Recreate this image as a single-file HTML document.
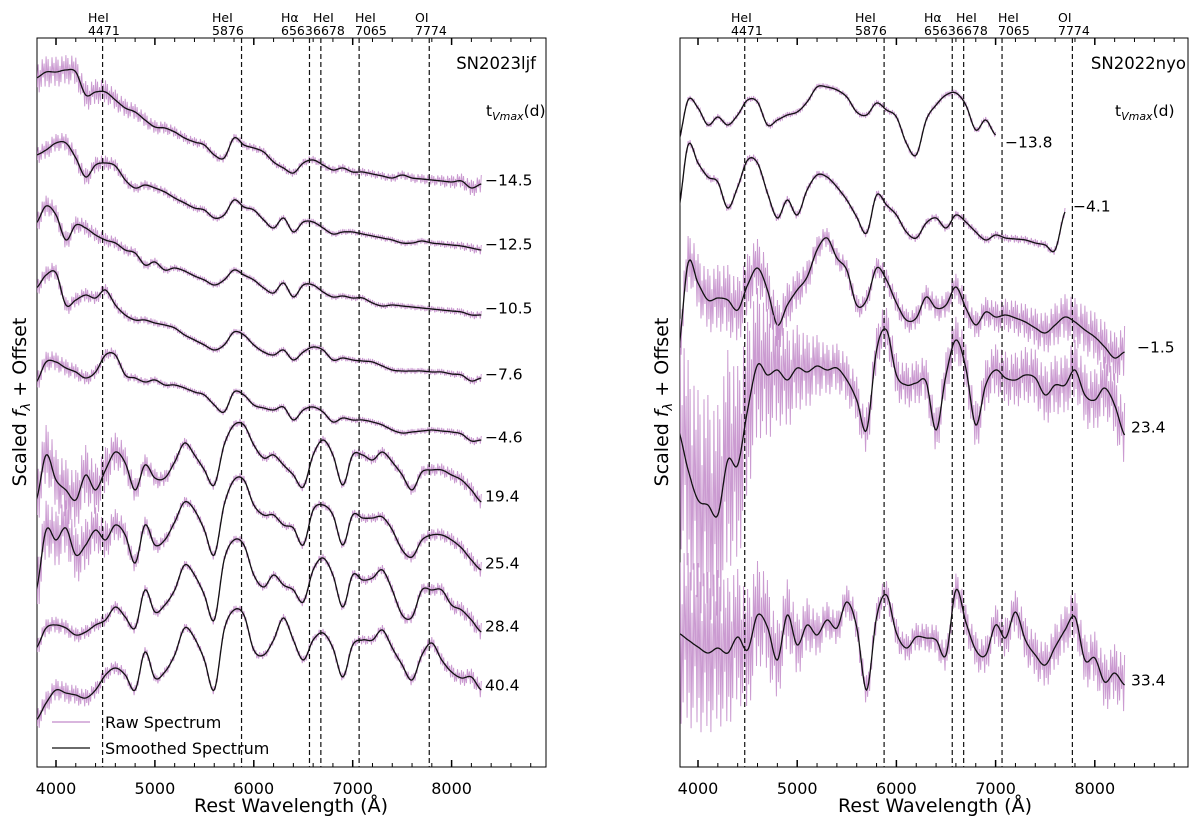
<!DOCTYPE html>
<html><head><meta charset="utf-8">
<style>
html,body{margin:0;padding:0;background:#fff;}
svg{display:block;font-family:"DejaVu Sans","Liberation Sans",sans-serif;}
</style></head>
<body>
<svg id="chart" width="1200" height="831" viewBox="0 0 1200 831" xmlns="http://www.w3.org/2000/svg">
<defs>
<clipPath id="clipL"><rect x="37" y="38" width="509" height="729"/></clipPath>
<clipPath id="clipR"><rect x="680" y="38" width="508" height="729"/></clipPath>
</defs>
<g id="panelL"></g>
<g id="panelR"></g>
</svg>
<script>
// ---------- DATA ----------
const lineWaves = [4471, 5876, 6563, 6678, 7065, 7774];
const lineNames = ["HeI", "HeI", "Hα", "HeI", "HeI", "OI"];
const xTicks = [4000, 5000, 6000, 7000, 8000];
const noiseGrid = [3800, 4300, 4800, 5300, 5800, 6300, 6800, 7300, 7800, 8300];

const leftPhases = ["−14.5", "−12.5", "−10.5", "−7.6", "−4.6", "19.4", "25.4", "28.4", "40.4"];
const leftStarts = [3800, 3800, 3800, 3800, 3800, 3800, 3800, 3800, 3800];
const L1 = [922,928,928,930,928,905,908,908,900,892,888,880,873,872,868,862,858,855,845,842,862,855,852,848,838,832,827,837,840,835,830,832,828,828,826,824,822,825,822,821,820,819,818,819,812,816];
const L2 = [845,850,857,857,842,823,835,837,834,820,812,815,812,808,802,797,792,790,782,785,800,793,790,780,772,782,768,778,778,772,766,768,768,766,764,762,760,757,757,759,757,756,755,754,752,750];
const L3 = [777,794,785,760,775,772,765,760,757,750,747,735,738,730,732,729,724,720,715,720,730,725,720,712,707,717,703,715,715,708,703,704,702,702,697,694,695,694,693,692,691,690,689,688,685,685];
const L4 = [712,725,727,695,700,705,702,710,695,685,680,680,677,675,672,665,660,655,650,655,668,665,655,648,645,650,640,648,653,650,640,642,640,639,638,634,630,629,629,629,628,628,626,625,619,622];
const L5 = [618,638,638,632,628,622,628,645,645,625,622,618,620,615,615,612,608,605,595,588,608,605,595,592,590,593,580,590,593,588,578,582,580,580,578,575,570,567,568,569,570,569,568,566,559,560];
const L6 = [500,545,520,510,500,525,510,530,548,537,510,535,522,522,538,557,545,530,515,555,575,575,555,542,545,535,525,513,545,560,545,515,545,545,540,548,538,525,510,528,530,530,525,520,510,498];
const L7 = [410,470,460,472,445,455,470,460,475,465,437,475,455,460,478,498,490,470,445,495,520,520,495,485,485,475,472,455,490,495,485,455,485,482,482,483,470,450,443,460,465,465,460,452,440,430];
const L8 = [352,372,375,372,365,368,375,380,393,383,372,410,388,395,410,435,425,405,380,440,460,455,425,413,425,415,410,398,430,442,425,393,425,420,422,430,410,385,383,410,410,410,395,390,380,368];
const L9 = [280,297,310,307,305,302,310,325,332,325,310,348,322,328,345,372,362,340,310,370,390,385,350,345,360,382,360,340,360,367,352,323,355,360,360,370,352,335,320,345,357,340,328,322,323,310];
const leftNoise = [
 [16,14,8,5,4,4,4,4,5,9],[9,9,5,4,3,3,3,3,3,5],[11,8,5,3,3,3,3,3,3,4],
 [9,7,4,3,3,3,3,3,3,4],[11,7,4,3,3,3,3,3,3,4],[30,30,12,5,4,4,4,5,6,8],
 [30,26,9,5,4,4,4,5,6,8],[9,7,5,4,4,4,4,5,6,9],[12,9,5,4,4,4,4,5,6,9]];

const rightPhases = ["−13.8", "−4.1", "−1.5", "23.4", "33.4"];
const rightStarts = [3800, 3800, 3800, 3800, 3800];
const R1 = [857,900,892,875,883,875,885,900,898,875,880,885,888,898,913,913,910,903,888,885,897,890,883,857,845,880,895,905,907,895,870,880,865];
const R2 = [788,855,837,823,818,792,813,840,837,807,782,800,785,810,825,823,813,800,783,767,805,795,785,768,762,777,782,772,785,778,768,760,765,762,761,760,757,755,750,788];
const R3 = [647,737,717,700,702,700,690,715,732,710,675,695,710,723,750,762,742,730,695,700,732,720,697,680,682,703,692,695,713,692,675,688,683,685,682,678,672,667,675,683,678,670,663,653,642,648];
const R4 = [570,530,500,495,485,540,535,590,635,625,630,620,632,628,634,630,632,620,600,570,650,670,625,615,617,618,570,625,660,632,575,615,630,622,620,625,622,605,615,615,630,605,600,612,595,565];
const R5 = [367,360,353,347,352,347,363,350,385,373,340,385,355,375,365,380,372,398,373,310,383,405,367,352,363,362,360,345,410,378,350,345,375,362,388,360,345,335,353,370,383,340,342,318,327,315];
const rightNoise = [
 [3,3,3,3,3,3,3,3,3,3],[4,4,4,4,4,4,4,4,4,4],[25,35,25,10,10,12,14,18,24,26],
 [110,110,55,25,22,22,24,28,30,32],[90,75,40,18,14,14,18,22,24,30]];

const leftSeries = [L1,L2,L3,L4,L5,L6,L7,L8,L9];
const rightSeries = [R1,R2,R3,R4,R5];

// ---------- SCALES ----------
const STEP = 100;
const yMin = 233, yMax = 962, plotTop = 38, plotBot = 767;
function yS(v){ return plotBot - (v - yMin) * (plotBot - plotTop) / (yMax - yMin); }
function xL(l){ return 56 + (l - 4000) * 0.0989; }
function xR(l){ return 698 + (l - 4000) * 0.0992; }

const NS = "http://www.w3.org/2000/svg";
function mk(tag, attrs, parent){
  const e = document.createElementNS(NS, tag);
  for (const k in attrs) e.setAttribute(k, attrs[k]);
  parent.appendChild(e); return e;
}
function noiseAt(arr, l){
  const t = (l - noiseGrid[0]) / 500;
  const i = Math.max(0, Math.min(arr.length - 2, Math.floor(t)));
  const f = Math.max(0, Math.min(1, t - i));
  return arr[i] * (1 - f) + arr[i + 1] * f;
}
function sample(vals, start){
  const pts = [];
  const n = vals.length;
  for (let i = 0; i < n - 1; i++){
    const p0 = vals[Math.max(0, i - 1)], p1 = vals[i], p2 = vals[i + 1], p3 = vals[Math.min(n - 1, i + 2)];
    for (let s = 0; s < 10; s++){
      const t = s / 10, t2 = t * t, t3 = t2 * t;
      const v = 0.5 * ((2 * p1) + (-p0 + p2) * t + (2 * p0 - 5 * p1 + 4 * p2 - p3) * t2 + (-p0 + 3 * p1 - 3 * p2 + p3) * t3);
      pts.push([start + (i + t) * STEP, v]);
    }
  }
  pts.push([start + (n - 1) * STEP, vals[n - 1]]);
  return pts;
}
const zig = [1, -0.6, 0.8, -1, 0.35, -0.75, 0.95, -0.25, 0.6, -0.9];

function drawPanel(g, xf, x0, x1, clip, series, starts, noises, phases, labelXs, labelYs){
  const frame = mk("rect", {x: x0, y: plotTop, width: x1 - x0, height: plotBot - plotTop, fill: "none", stroke: "#000", "stroke-width": 1}, g);
  
  
  for (let l = 3800; l <= 8900; l += 200){
    const x = xf(l);
    if (x < x0 || x > x1) continue;
    const major = (l % 1000 === 0);
    const len = major ? 7 : 4;
    const tb = mk("line", {x1: x, x2: x, y1: plotBot, y2: plotBot - len, stroke: "#000", "stroke-width": major ? 1.5 : 1}, g);
    
    
    const tt = mk("line", {x1: x, x2: x, y1: plotTop, y2: plotTop + len, stroke: "#000", "stroke-width": major ? 1.5 : 1}, g);
    
    
  }
  xTicks.forEach(l => {
    const t = mk("text", {x: xf(l), y: 794, "text-anchor": "middle", "font-size": 16}, g);
    t.textContent = l;
    
    
  });
  const sg = mk("g", {"clip-path": "url(#" + clip + ")"}, g);
  series.forEach((vals, k) => {
    const pts = sample(vals, starts[k]);
    let raw = "";
    pts.forEach((p, j) => {
      const a = noiseAt(noises[k], p[0]) * zig[j % zig.length];
      raw += (j ? "L" : "M") + xf(p[0]).toFixed(1) + "," + yS(p[1] + a).toFixed(1);
    });
    const rp = mk("path", {d: raw, fill: "none", stroke: "#c28ac9", "stroke-width": 1, "stroke-opacity": 0.85}, sg);
    
    
    let sm = "";
    pts.forEach((p, j) => { sm += (j ? "L" : "M") + xf(p[0]).toFixed(1) + "," + yS(p[1]).toFixed(1); });
    const spth = mk("path", {d: sm, fill: "none", stroke: "#111", "stroke-width": 1.3}, sg);
    
    
    const lab = mk("text", {x: labelXs[k], y: labelYs[k], "font-size": 15.5, "dominant-baseline": "middle"}, g);
    lab.textContent = phases[k];
    
    
  });
  lineWaves.forEach((l) => {
    const x = xf(l);
    const dl = mk("line", {x1: x, x2: x, y1: plotTop, y2: plotBot, stroke: "#111", "stroke-width": 1.2, "stroke-dasharray": "5,3"}, g);
    
    
  });
}

const gL = document.getElementById("panelL");
const gR = document.getElementById("panelR");
drawPanel(gL, xL, 37, 546, "clipL", leftSeries, leftStarts, leftNoise, leftPhases,
  [485,485,485,485,485,485,485,485,485], [181,245,309,375,438,497,564,627,686]);
drawPanel(gR, xR, 680, 1188, "clipR", rightSeries, rightStarts, rightNoise, rightPhases,
  [1005,1073,1137,1131,1131], [143,207,348,428,681]);

const lblXL = [88, 212, 281, 313, 355, 415];
function topLabels(g, off){
  lineWaves.forEach((l, i) => {
    const t1 = mk("text", {x: lblXL[i] + off, y: 22, "font-size": 12.5}, g);
    t1.textContent = lineNames[i];
    
    
    const t2 = mk("text", {x: lblXL[i] + off, y: 35, "font-size": 12.5}, g);
    t2.textContent = l;
    
    
  });
}
topLabels(gL, 0);
topLabels(gR, 643);

function panelText(g, name, nx, tx){
  const sn = mk("text", {x: nx, y: 69, "font-size": 16.5, "text-anchor": "end"}, g);
  sn.textContent = name;
  
  
  const tv = mk("text", {x: tx, y: 116, "font-size": 15.5}, g);
  tv.innerHTML = 't<tspan font-size="11" font-style="italic" dy="4">Vmax</tspan><tspan dy="-4">(d)</tspan>';
  
  
  const xl = mk("text", {x: 0, y: 812, "font-size": 19, "text-anchor": "middle"}, g);
  xl.textContent = "Rest Wavelength (Å)";
  
  
  return xl;
}
panelText(gL, "SN2023ljf", 536, 486).setAttribute("x", 291);
panelText(gR, "SN2022nyo", 1186, 1115).setAttribute("x", 935);

function yTitle(g, x){
  const t = mk("text", {x: x, y: 402, "font-size": 19, "text-anchor": "middle", transform: "rotate(-90 " + x + " 402)"}, g);
  t.innerHTML = 'Scaled <tspan font-style="italic">f</tspan><tspan font-size="13" font-style="italic" dy="4">λ</tspan><tspan dy="-4"> + Offset</tspan>';
  
  
}
yTitle(gL, 26);
yTitle(gR, 668);

const lg = mk("g", {}, gL);


const l1 = mk("line", {x1: 52, x2: 90, y1: 722, y2: 722, stroke: "#c28ac9", "stroke-width": 1.3}, lg);


const t1 = mk("text", {x: 105, y: 728, "font-size": 16}, lg);
t1.textContent = "Raw Spectrum";


const l2 = mk("line", {x1: 52, x2: 90, y1: 748, y2: 748, stroke: "#111", "stroke-width": 1.3}, lg);


const t2 = mk("text", {x: 105, y: 754, "font-size": 16}, lg);
t2.textContent = "Smoothed Spectrum";


</script>
</body></html>
